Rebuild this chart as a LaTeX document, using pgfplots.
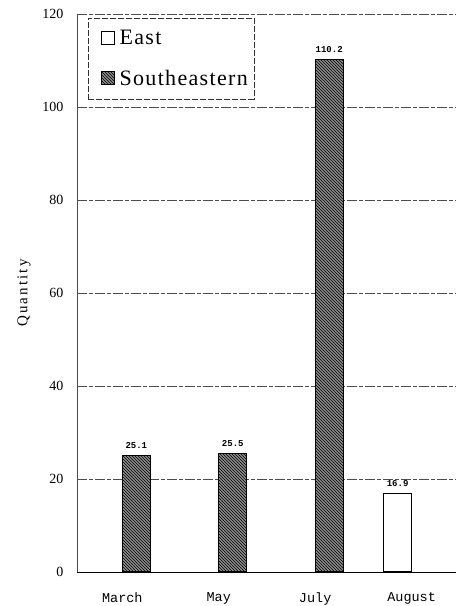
\documentclass[border=0pt]{standalone}
\usepackage{fontspec}
\setmainfont{Liberation Serif}
\newfontfamily\monofont{Liberation Mono}
\newfontfamily\spacedserif[LetterSpace=6]{Liberation Serif}
\newfontfamily\spacedlabel[LetterSpace=14]{Liberation Serif}
\usepackage{pgfplots}
\pgfplotsset{compat=1.18}
\usetikzlibrary{patterns,calc}
\begin{document}
\begin{tikzpicture}
\begin{axis}[
  scale only axis,
  width=379pt, height=558pt,
  ybar=0pt, bar width=28pt,
  xmin=-0.47, xmax=3.46,
  ymin=0, ymax=120,
  ytick={0,20,40,60,80,100,120},
  xtick={0,1,2,3},
  xticklabels={March,May,July,August},
  axis x line=bottom, axis y line=left,
  x axis line style={-, black, line width=0.6pt},
  y axis line style={-, black!70, line width=0.5pt},
  major tick length=0pt,
  ymajorgrids,
  grid style={black!70, dash pattern=on 10pt off 2pt on 4pt off 2pt, line width=0.5pt},
  /pgf/number format/assume math mode=true,
  yticklabel style={font=\fontsize{14}{14}\selectfont, xshift=-10pt},
  xticklabel style={font=\monofont\fontsize{13.5}{13.5}\selectfont, yshift=-17pt},
  ylabel={\spacedlabel\fontsize{15}{15}\selectfont Quantity},
  ylabel style={at={(axis description cs:-0.14,0.5)}, anchor=center},
  nodes near coords,
  nodes near coords style={font=\monofont\bfseries\fontsize{9}{9}\selectfont, yshift=3pt},
  legend style={at={(rel axis cs:0.029,0.993)}, anchor=north west,
    draw=black!80, dash pattern=on 6pt off 2pt, line width=0.5pt,
    font=\spacedserif\fontsize{22}{22}\selectfont,
    inner xsep=4pt, inner ysep=10pt, row sep=20pt},
  legend cell align=left,
  legend image code/.code={\path (0pt,0pt) (24pt,0pt); \draw[#1, solid, line width=1pt] (9pt,-6pt) rectangle (22pt,7pt);},
  clip=false,
]
\addplot[fill=white, draw=black, line width=1.4pt] coordinates {(3,16.9)};
\addplot[fill=black!45, draw=black, line width=1.4pt, postaction={pattern=north west lines, pattern color=black}] coordinates {(0,25.1) (1,25.5) (2,110.2)};
\legend{East,Southeastern}
\coordinate (bl) at (rel axis cs:0,0);
\coordinate (tr) at (rel axis cs:1,1);
\end{axis}
\pgfresetboundingbox
\path ($(bl)+(-77pt,-34pt)$) rectangle ($(tr)+(0pt,14pt)$);
\end{tikzpicture}
\end{document}
